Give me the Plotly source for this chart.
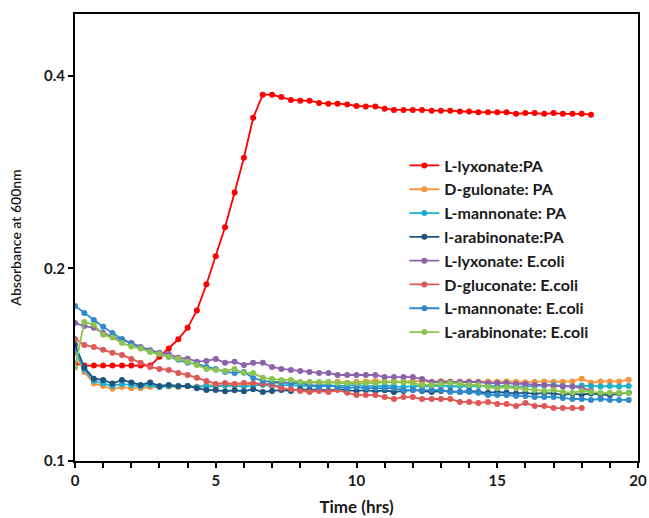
import plotly.graph_objects as go

# Time points (hrs), every 20 min
time_hrs = [0, 0.33, 0.67, 1.0, 1.33, 1.67, 2.0, 2.33, 2.67, 3.0,
            3.33, 3.67, 4.0, 4.33, 4.67, 5.0, 5.33, 5.67, 6.0, 6.33,
            6.67, 7.0, 7.33, 7.67, 8.0, 8.33, 8.67, 9.0, 9.33, 9.67,
            10.0, 10.33, 10.67, 11.0, 11.33, 11.67, 12.0, 12.33, 12.67, 13.0,
            13.33, 13.67, 14.0, 14.33, 14.67, 15.0, 15.33, 15.67, 16.0, 16.33,
            16.67, 17.0, 17.33, 17.67, 18.0, 18.33, 18.67, 19.0, 19.33, 19.67]

l_lyxonate_pa = [0.142, 0.141, 0.141, 0.141, 0.141, 0.141, 0.141, 0.141, 0.141, 0.1455,
                 0.150, 0.155, 0.1615, 0.172, 0.189, 0.209, 0.232, 0.263, 0.298, 0.344,
                 0.374, 0.374, 0.371, 0.367, 0.366, 0.366, 0.363, 0.362, 0.362, 0.361,
                 0.359, 0.3585, 0.3585, 0.3556, 0.354, 0.354, 0.354, 0.354, 0.353, 0.353,
                 0.353, 0.352, 0.352, 0.351, 0.351, 0.351, 0.351, 0.349, 0.350, 0.350,
                 0.349, 0.350, 0.349, 0.349, 0.349, 0.348]

d_gulonate_pa = [0.1475, 0.1378, 0.1322, 0.1310, 0.1297, 0.1305, 0.1300, 0.1300, 0.1305, 0.1305,
                 0.1308, 0.1305, 0.1310, 0.1308, 0.1315, 0.1312, 0.1315, 0.1318, 0.1315, 0.1320,
                 0.1318, 0.1322, 0.1325, 0.1322, 0.1325, 0.1328, 0.1325, 0.1328, 0.1330, 0.1326,
                 0.1330, 0.1332, 0.1334, 0.1330, 0.1332, 0.1330, 0.1334, 0.1332, 0.1330, 0.1334,
                 0.1332, 0.1330, 0.1332, 0.1330, 0.1332, 0.1330, 0.1332, 0.1330, 0.1328, 0.1330,
                 0.1332, 0.1330, 0.1330, 0.1332, 0.1345, 0.1326, 0.1332, 0.1332, 0.1332, 0.1340]

l_mannonate_pa = [0.1490, 0.1390, 0.1335, 0.1322, 0.1310, 0.1320, 0.1315, 0.1308, 0.1315, 0.1305,
                  0.1310, 0.1308, 0.1310, 0.1305, 0.1310, 0.1308, 0.1312, 0.1310, 0.1308, 0.1312,
                  0.1315, 0.1310, 0.1312, 0.1315, 0.1312, 0.1310, 0.1315, 0.1312, 0.1310, 0.1312,
                  0.1315, 0.1310, 0.1308, 0.1312, 0.1310, 0.1305, 0.1310, 0.1308, 0.1310, 0.1312,
                  0.1308, 0.1310, 0.1308, 0.1310, 0.1312, 0.1308, 0.1310, 0.1306, 0.1308, 0.1310,
                  0.1312, 0.1315, 0.1310, 0.1308, 0.1312, 0.1310, 0.1308, 0.1310, 0.1308, 0.1310]

l_arabinonate_pa = [0.1520, 0.1400, 0.1345, 0.1339, 0.1322, 0.1339, 0.1327, 0.1315, 0.1327, 0.1310,
                    0.1315, 0.1310, 0.1310, 0.1300, 0.1291, 0.1291, 0.1285, 0.1290, 0.1285, 0.1295,
                    0.1282, 0.1287, 0.1291, 0.1287, 0.1295, 0.1291, 0.1295, 0.1287, 0.1295, 0.1290,
                    0.1287, 0.1291, 0.1285, 0.1290, 0.1282, 0.1287, 0.1291, 0.1287, 0.1282, 0.1287,
                    0.1285, 0.1282, 0.1287, 0.1282, 0.1278, 0.1282, 0.1280, 0.1275, 0.1278, 0.1273,
                    0.1278, 0.1275, 0.1270, 0.1273, 0.1270, 0.1275, 0.1270, 0.1268, 0.1275, 0.1278]

l_lyxonate_ecoli = [0.1644, 0.1626, 0.1615, 0.1586, 0.1564, 0.1547, 0.1530, 0.1508, 0.1490, 0.1476,
                    0.1470, 0.1450, 0.1445, 0.1430, 0.1434, 0.1444, 0.1424, 0.1430, 0.1413, 0.1424,
                    0.1424, 0.1403, 0.1393, 0.1388, 0.1383, 0.1378, 0.1373, 0.1373, 0.1363, 0.1363,
                    0.1363, 0.1363, 0.1363, 0.1353, 0.1353, 0.1353, 0.1353, 0.1344, 0.1329, 0.1329,
                    0.1329, 0.1329, 0.1329, 0.1329, 0.1324, 0.1324, 0.1324, 0.1320, 0.1320, 0.1315,
                    0.1315, 0.1310, 0.1308, 0.1308, 0.1300, 0.1288]

d_gluconate_ecoli = [0.1552, 0.1519, 0.1508, 0.1492, 0.1476, 0.1465, 0.1444, 0.1424, 0.1403, 0.1393,
                     0.1388, 0.1373, 0.1363, 0.1349, 0.1334, 0.1320, 0.1324, 0.1320, 0.1324, 0.1324,
                     0.1320, 0.1315, 0.1300, 0.1295, 0.1287, 0.1282, 0.1287, 0.1282, 0.1291, 0.1278,
                     0.1268, 0.1268, 0.1268, 0.1259, 0.1250, 0.1259, 0.1259, 0.1250, 0.1250, 0.1250,
                     0.1250, 0.1237, 0.1237, 0.1232, 0.1237, 0.1228, 0.1228, 0.1219, 0.1232, 0.1219,
                     0.1219, 0.1210, 0.1210, 0.1210, 0.1210]

l_mannonate_ecoli = [0.1748, 0.1704, 0.1662, 0.1621, 0.1586, 0.1552, 0.1525, 0.1503, 0.1485, 0.1470,
                     0.1455, 0.1440, 0.1424, 0.1418, 0.1403, 0.1393, 0.1378, 0.1373, 0.1378, 0.1349,
                     0.1334, 0.1329, 0.1329, 0.1324, 0.1324, 0.1315, 0.1305, 0.1315, 0.1305, 0.1300,
                     0.1305, 0.1300, 0.1300, 0.1300, 0.1300, 0.1291, 0.1291, 0.1291, 0.1291, 0.1291,
                     0.1282, 0.1282, 0.1282, 0.1278, 0.1268, 0.1268, 0.1268, 0.1264, 0.1264, 0.1259,
                     0.1259, 0.1259, 0.1255, 0.1250, 0.1250, 0.1246, 0.1250, 0.1246, 0.1246, 0.1246]

l_arabinonate_ecoli = [0.1400, 0.1650, 0.1633, 0.1575, 0.1560, 0.1530, 0.1510, 0.1500, 0.1480, 0.1470,
                       0.1455, 0.1445, 0.1430, 0.1413, 0.1393, 0.1388, 0.1383, 0.1393, 0.1373, 0.1373,
                       0.1349, 0.1344, 0.1339, 0.1339, 0.1329, 0.1329, 0.1329, 0.1329, 0.1324, 0.1324,
                       0.1324, 0.1324, 0.1324, 0.1329, 0.1329, 0.1329, 0.1324, 0.1315, 0.1315, 0.1320,
                       0.1324, 0.1320, 0.1315, 0.1315, 0.1305, 0.1300, 0.1305, 0.1300, 0.1295, 0.1291,
                       0.1287, 0.1291, 0.1282, 0.1278, 0.1287, 0.1282, 0.1278, 0.1278, 0.1278, 0.1278]

series_names = ["L-lyxonate:PA", "D-gulonate: PA", "L-mannonate: PA", "l-arabinonate:PA",
                "L-lyxonate: E.coli", "D-gluconate: E.coli", "L-mannonate: E.coli",
                "L-arabinonate: E.coli"]
series_values = [l_lyxonate_pa, d_gulonate_pa, l_mannonate_pa, l_arabinonate_pa,
                 l_lyxonate_ecoli, d_gluconate_ecoli, l_mannonate_ecoli, l_arabinonate_ecoli]
series_colors = ["#FF0000", "#F7953F", "#1DB0CE", "#1C5580",
                 "#8C62AD", "#E05757", "#2F8ACB", "#8DC350"]

x_tick_vals = [0, 5, 10, 15, 20]
y_tick_vals = [0.1, 0.2, 0.4]
y_tick_text = ["0.1", "0.2", "0.4"]

FONT = "Lato, 'Open Sans', sans-serif"

fig = go.Figure()
for name, vals, col in zip(series_names, series_values, series_colors):
    fig.add_trace(go.Scatter(
        x=time_hrs[:len(vals)], y=vals, name=name, mode="lines+markers",
        line=dict(color=col, width=1.8),
        marker=dict(color=col, size=6),
    ))

fig.update_layout(
    width=649, height=518,
    margin=dict(l=75, r=11, t=14, b=57),
    paper_bgcolor="white", plot_bgcolor="white",
    font=dict(family=FONT, color="#1a1a1a", size=14),
    showlegend=True,
    legend=dict(x=0.585, y=0.699, xanchor="left", yanchor="top",
                bgcolor="rgba(255,255,255,0)", borderwidth=0,
                font=dict(family=FONT, size=16, color="#1a1a1a", weight="bold"),
                tracegroupgap=0, itemwidth=30),
)
fig.update_xaxes(
    range=[0, 20], tickvals=x_tick_vals, ticks="outside", ticklen=5, tickwidth=2,
    tickcolor="black", showline=True, linecolor="black", linewidth=2, mirror=True,
    showgrid=False, zeroline=False, automargin=False, ticklabeloverflow="allow",
    tickfont=dict(family=FONT, size=15, weight="bold"),
    minor=dict(dtick=1, ticks="outside", ticklen=5, tickwidth=2, tickcolor="black", showgrid=False),
    title=dict(text="Time (hrs)", font=dict(family=FONT, size=17, weight="bold"), standoff=13),
)
fig.update_yaxes(
    type="log", range=[-1, -0.30103], tickvals=y_tick_vals, ticktext=y_tick_text,
    ticks="outside", ticklen=5, tickwidth=2, tickcolor="black",
    showline=True, linecolor="black", linewidth=2, mirror=True,
    showgrid=False, zeroline=False, automargin=False, ticklabeloverflow="allow",
    tickfont=dict(family=FONT, size=15, weight="bold"),
    title=dict(text="Absorbance at 600nm", font=dict(family=FONT, size=14, weight=600), standoff=19),
)

# remove the page's default body margin so the 649x518 figure fills the window exactly
fig.write_html(
    "out.html",
    config={"displayModeBar": False},
    post_script="document.body.style.margin='0';document.body.style.overflow='hidden';",
)
